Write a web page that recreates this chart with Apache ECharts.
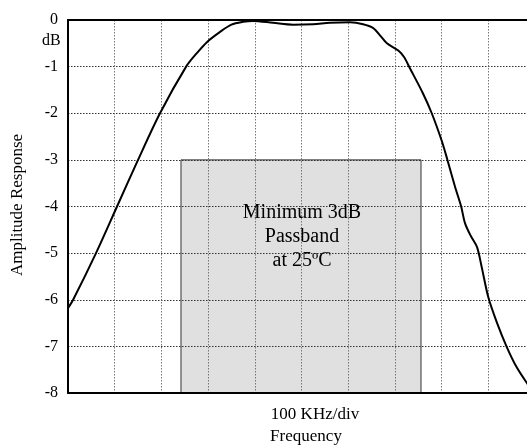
<!DOCTYPE html>
<html>
<head>
<meta charset="utf-8">
<script src="https://cdn.jsdelivr.net/npm/echarts@6/dist/echarts.min.js"></script>
<style>html,body{margin:0;padding:0;background:#fff}#c{width:527px;height:445px}</style>
</head>
<body>
<div id="c"></div>
<script>
// frequency in divisions (100 KHz/div), amplitude in dB
const freqDiv = [0, 0.11, 0.6, 1.05, 1.5, 1.97, 2.53, 2.76, 2.98, 3.25, 3.5, 3.75, 3.96, 4.39, 4.82, 5.25, 5.61, 6.04, 6.32, 6.53, 6.7, 6.83, 7.08, 7.2, 7.32, 7.6, 7.79, 8.0, 8.12, 8.29, 8.42, 8.5, 8.62, 8.76, 8.86, 9.0, 9.19, 9.4, 9.61, 9.83, 9.95];
const ampDb   = [-6.18, -6, -5, -4, -3, -2, -1, -0.71, -0.47, -0.26, -0.1, -0.04, -0.02, -0.06, -0.1, -0.09, -0.06, -0.05, -0.09, -0.17, -0.35, -0.5, -0.66, -0.8, -1.03, -1.57, -2, -2.58, -2.98, -3.58, -4.0, -4.35, -4.62, -4.87, -5.3, -5.94, -6.5, -7.02, -7.45, -7.79, -7.95];
const passbandX = [2.42, 7.56];
const passbandY = [-3, -8];
const yTicks = [0, -1, -2, -3, -4, -5, -6, -7, -8];
const xVisibleMax = 9.83; // the plot is cut off at the right edge of the picture
const passbandText = 'Minimum 3dB\nPassband\nat 25ºC';

const chart = echarts.init(document.getElementById('c'), null, {renderer: 'canvas'});
const font = 'Liberation Serif, Times New Roman, serif';
chart.setOption({
  animation: false,
  backgroundColor: '#fff',
  grid: {left: 68, top: 20, right: 0, bottom: 52, show: false},
  xAxis: [{
    type: 'value', min: 0, max: xVisibleMax, interval: 1, z: 3,
    axisLine: {show: true, onZero: false, lineStyle: {color: '#000', width: 2}},
    axisTick: {show: false}, axisLabel: {show: false},
    splitLine: {show: true, lineStyle: {color: '#777', type: [1.5, 1.5], width: 1}}
  }, {
    type: 'value', min: 0, max: xVisibleMax, position: 'top', z: 3,
    axisLine: {show: true, lineStyle: {color: '#000', width: 2}},
    axisTick: {show: false}, axisLabel: {show: false}, splitLine: {show: false}
  }],
  yAxis: {
    type: 'value', min: -8, max: 0, interval: 1, z: 3,
    axisLine: {show: true, onZero: false, lineStyle: {color: '#000', width: 2}},
    axisTick: {show: false},
    axisLabel: {color: '#000', fontFamily: font, fontSize: 16, margin: 10,
      formatter: v => yTicks.includes(v) ? String(v) : ''},
    splitLine: {show: true, lineStyle: {color: '#333', type: [1.5, 1.5], width: 1}}
  },
  series: [
    {
      type: 'line', data: [], z: 1,
      markArea: {
        silent: true,
        itemStyle: {color: '#e0e0e0', borderColor: '#333', borderWidth: 1},
        data: [[{coord: [passbandX[0], passbandY[0]]}, {coord: [passbandX[1], passbandY[1]]}]],
        label: {show: false}
      }
    },
    {
      type: 'line', z: 5,
      data: freqDiv.map((x, i) => [x, ampDb[i]]),
      showSymbol: false, smooth: 0.3,
      lineStyle: {color: '#000', width: 2}
    }
  ],
  graphic: [
    {type: 'text', left: 42, top: 33, style: {text: 'dB', fill: '#000', font: '16px ' + font}},
    {type: 'text', x: 18, y: 205, rotation: Math.PI / 2, style: {text: 'Amplitude Response', fill: '#000', font: '17px ' + font, align: 'center', verticalAlign: 'middle'}},
    {type: 'text', x: 315, y: 415, style: {text: '100 KHz/div', fill: '#000', font: '17px ' + font, align: 'center', verticalAlign: 'middle'}},
    {type: 'text', x: 306, y: 437, style: {text: 'Frequency', fill: '#000', font: '17px ' + font, align: 'center', verticalAlign: 'middle'}},
    {type: 'text', x: 302, y: 237, z: 10, style: {text: passbandText, fill: '#000', font: '20px ' + font, align: 'center', verticalAlign: 'middle', lineHeight: 24}}
  ]
});
</script>
</body>
</html>
